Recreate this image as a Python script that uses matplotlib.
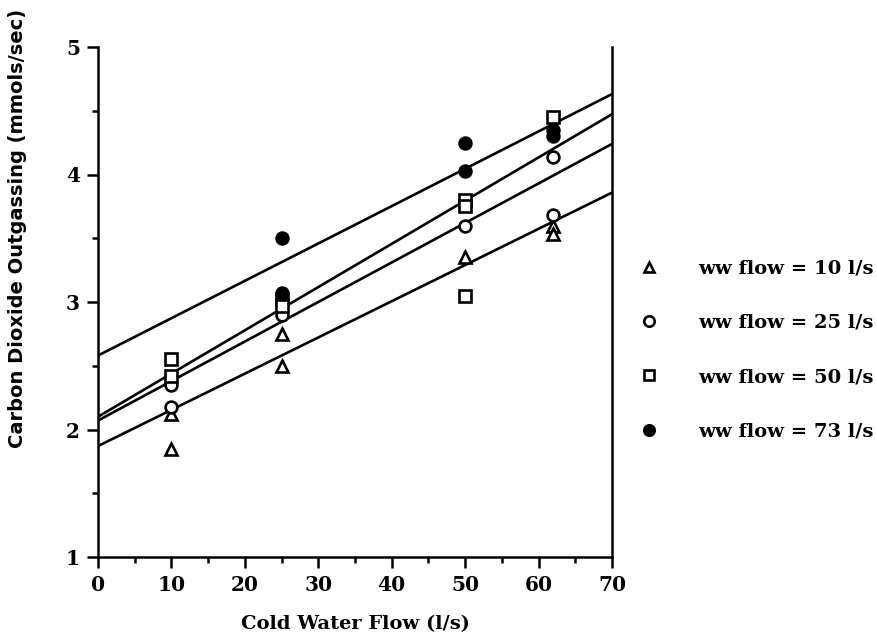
import numpy as np
import matplotlib
matplotlib.use("Agg")
import matplotlib.pyplot as plt
from matplotlib.lines import Line2D

# Measured CO2 outgassing vs cold water flow, grouped by warm-water flow
ww_labels = ["ww flow = 10 l/s", "ww flow = 25 l/s", "ww flow = 50 l/s", "ww flow = 73 l/s"]

ww10_x = [10, 10, 25, 25, 50, 62, 62]
ww10_y = [2.12, 1.85, 2.75, 2.50, 3.35, 3.60, 3.53]

ww25_x = [10, 10, 25, 50, 62, 62]
ww25_y = [2.35, 2.18, 2.90, 3.60, 4.14, 3.68]

ww50_x = [10, 10, 25, 25, 50, 50, 50, 62]
ww50_y = [2.55, 2.42, 3.02, 2.97, 3.80, 3.75, 3.05, 4.45]

ww73_x = [25, 25, 50, 50, 62, 62]
ww73_y = [3.50, 3.07, 4.25, 4.03, 4.35, 4.30]

# Linear regression fits (intercept, slope) for each warm-water flow
fit_intercepts = [1.87, 2.07, 2.10, 2.58]
fit_slopes = [0.0284, 0.0310, 0.0339, 0.0293]

x_ticks = [0, 10, 20, 30, 40, 50, 60, 70]
y_ticks = [1, 2, 3, 4, 5]

serif = "DejaVu Serif"

fig = plt.figure(figsize=(8.77, 6.42), dpi=100)
ax = fig.add_axes([98 / 877, 1 - 557 / 642, (612 - 98) / 877, (557 - 47) / 642])

# regression lines across the full x range
xs = np.array([0, 70])
for b, m in zip(fit_intercepts, fit_slopes):
    ax.plot(xs, b + m * xs, color="black", lw=1.9, solid_capstyle="butt", zorder=2)

mk = dict(color="black", linestyle="none", markersize=8.5, markeredgewidth=1.9, zorder=3)
ax.plot(ww10_x, ww10_y, marker="^", markerfacecolor="white", markeredgecolor="black", **mk)
ax.plot(ww25_x, ww25_y, marker="o", markerfacecolor="white", markeredgecolor="black", **mk)
ax.plot(ww50_x, ww50_y, marker="s", markerfacecolor="white", markeredgecolor="black", **mk)
ax.plot(ww73_x, ww73_y, marker="o", markerfacecolor="black", markeredgecolor="black", **mk)

ax.set_xlim(0, 70)
ax.set_ylim(1, 5)
ax.set_xticks(x_ticks)
ax.set_xticks(np.arange(5, 70, 10), minor=True)
ax.set_yticks(y_ticks)
ax.set_yticks(np.arange(1.5, 5, 1), minor=True)
ax.set_xticklabels([str(v) for v in x_ticks], family=serif, fontweight="bold", fontsize=14.5)
ax.set_yticklabels([str(v) for v in y_ticks], family=serif, fontweight="bold", fontsize=14.5)

ax.tick_params(which="major", direction="out", length=8, width=1.8, pad=5)
ax.tick_params(which="minor", direction="out", length=4, width=1.8)
ax.spines["top"].set_visible(False)
for s in ("left", "bottom", "right"):
    ax.spines[s].set_linewidth(1.8)

fig.text(355 / 877, 1 - 624 / 642, "Cold Water Flow (l/s)", family=serif,
         fontweight="bold", fontsize=14, ha="center", va="center")
fig.text(18 / 877, 1 - 228 / 642, "Carbon Dioxide Outgassing (mmols/sec)",
         family="DejaVu Sans", fontweight="bold",
         fontsize=14, rotation=90, ha="center", va="center")

handles = [
    Line2D([], [], marker="^", markerfacecolor="white", **mk),
    Line2D([], [], marker="o", markerfacecolor="white", **mk),
    Line2D([], [], marker="s", markerfacecolor="white", **mk),
    Line2D([], [], marker="o", markerfacecolor="black", **mk),
]
for h in handles:
    h.set_markersize(7.5)
leg = fig.legend(handles, ww_labels, loc="center left",
                 bbox_to_anchor=(620 / 877, 1 - 350 / 642), frameon=False,
                 prop={"family": serif, "size": 14, "weight": "bold"},
                 labelspacing=1.87, handlelength=1.2, handletextpad=1.9)

fig.savefig("out.png", dpi=100)
